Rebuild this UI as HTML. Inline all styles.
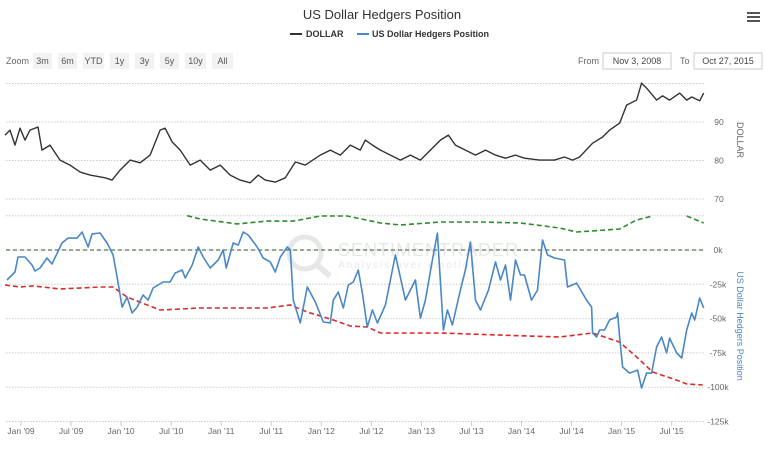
<!DOCTYPE html>
<html><head><meta charset="utf-8"><style>
body{margin:0;background:#fff;font-family:"Liberation Sans",sans-serif;}
svg text{font-family:"Liberation Sans",sans-serif;}
</style></head><body>
<svg id="c" width="765" height="444" xmlns="http://www.w3.org/2000/svg">
<text x="382" y="19" text-anchor="middle" font-size="13" fill="#333">US Dollar Hedgers Position</text>
<g><rect x="747" y="12" width="13" height="2" fill="#555"/><rect x="747" y="16" width="13" height="2" fill="#555"/><rect x="747" y="20" width="13" height="2" fill="#555"/></g>
<g><line x1="290" y1="34" x2="302" y2="34" stroke="#333" stroke-width="2"/><text x="306" y="37" font-size="9" font-weight="bold" fill="#333">DOLLAR</text></g>
<g><line x1="357" y1="34" x2="369" y2="34" stroke="#4a87c5" stroke-width="2"/><text x="372" y="37" font-size="9" font-weight="bold" fill="#333">US Dollar Hedgers Position</text></g>
<text x="6" y="64" font-size="9" fill="#666">Zoom</text>
<g id="zb"></g>
<text x="578" y="64" font-size="9" fill="#666">From</text>
<rect x="603" y="53" width="68" height="16" fill="#fff" stroke="#ccc"/>
<text x="637" y="64" font-size="9" fill="#444" text-anchor="middle">Nov 3, 2008</text>
<text x="680" y="64" font-size="9" fill="#666">To</text>
<rect x="694" y="53" width="68" height="16" fill="#fff" stroke="#ccc"/>
<text x="728" y="64" font-size="9" fill="#444" text-anchor="middle">Oct 27, 2015</text>
<g opacity="0.35">
<circle cx="305" cy="253" r="16" fill="none" stroke="#bbb" stroke-width="5"/>
<line x1="317" y1="265" x2="330" y2="276" stroke="#bbb" stroke-width="6"/>
<text x="338" y="256" font-size="18" fill="#bbb" letter-spacing="1">SENTIMENTRADER</text>
<text x="338" y="268" font-size="10" fill="#bbb" letter-spacing="2">Analysis over emotion</text>
</g>
<g id="grid"></g><g id="series"></g><g id="axes"></g>
<text transform="translate(737,140) rotate(90)" font-size="9" fill="#666" text-anchor="middle">DOLLAR</text>
<text transform="translate(737,326) rotate(90)" font-size="9" fill="#4a87c5" text-anchor="middle">US Dollar Hedgers Position</text>
</svg>
<script>
const zoomButtons=["3m","6m","YTD","1y","3y","5y","10y","All"];
const dollarDates=[2008.84,2008.89,2008.94,2008.99,2009.04,2009.09,2009.17,2009.21,2009.29,2009.39,2009.49,2009.59,2009.69,2009.84,2009.91,2009.99,2010.09,2010.19,2010.29,2010.39,2010.44,2010.51,2010.59,2010.69,2010.79,2010.89,2010.99,2011.09,2011.19,2011.29,2011.37,2011.44,2011.54,2011.64,2011.74,2011.84,2011.99,2012.09,2012.19,2012.29,2012.39,2012.44,2012.51,2012.59,2012.69,2012.79,2012.89,2012.99,2013.09,2013.19,2013.27,2013.34,2013.44,2013.54,2013.64,2013.74,2013.84,2013.94,2014.03,2014.18,2014.33,2014.43,2014.51,2014.58,2014.71,2014.81,2014.88,2014.98,2015.05,2015.15,2015.20,2015.25,2015.35,2015.41,2015.48,2015.58,2015.65,2015.70,2015.78,2015.82];
const dollarValues=[86.6,87.9,84.0,88.4,85.3,87.9,88.7,82.7,84.0,80.1,78.8,77.0,76.2,75.5,74.9,77.5,80.1,79.4,81.4,87.9,88.4,84.8,82.7,78.8,80.1,77.5,78.8,76.2,74.9,74.2,76.2,74.9,74.4,75.5,79.6,78.8,81.4,82.7,81.4,84.0,82.7,85.3,84.0,82.7,81.4,80.1,81.4,80.1,82.7,85.3,86.6,84.0,82.7,81.4,82.7,81.4,80.6,81.4,80.6,80.1,80.1,80.9,80.1,80.9,84.5,86.1,87.9,89.7,94.4,95.7,100.1,98.8,95.7,96.8,95.7,97.5,95.7,96.5,95.5,97.5];
const hedgeDates=[2008.86,2008.94,2008.97,2009.04,2009.11,2009.14,2009.19,2009.26,2009.31,2009.41,2009.47,2009.56,2009.61,2009.67,2009.71,2009.79,2009.86,2009.92,2009.96,2010.01,2010.06,2010.11,2010.16,2010.22,2010.27,2010.32,2010.42,2010.49,2010.54,2010.61,2010.64,2010.71,2010.77,2010.82,2010.89,2010.97,2011.02,2011.05,2011.12,2011.17,2011.22,2011.27,2011.36,2011.42,2011.49,2011.54,2011.59,2011.66,2011.69,2011.72,2011.79,2011.86,2011.94,2012.02,2012.09,2012.12,2012.17,2012.22,2012.27,2012.32,2012.37,2012.41,2012.46,2012.51,2012.56,2012.64,2012.74,2012.84,2012.94,2012.99,2013.04,2013.11,2013.16,2013.22,2013.26,2013.31,2013.39,2013.44,2013.49,2013.54,2013.59,2013.67,2013.74,2013.79,2013.84,2013.89,2013.94,2013.99,2014.03,2014.10,2014.16,2014.21,2014.26,2014.33,2014.43,2014.46,2014.55,2014.65,2014.70,2014.71,2014.75,2014.78,2014.83,2014.88,2014.95,2014.96,2014.98,2015.01,2015.08,2015.16,2015.20,2015.25,2015.30,2015.35,2015.40,2015.45,2015.48,2015.55,2015.60,2015.65,2015.70,2015.73,2015.78,2015.82];
const hedgeValues=[-21.9,-16.0,-5.1,-5.1,-10.9,-15.3,-13.1,-5.8,-10.2,5.1,8.7,8.7,13.1,2.2,11.7,12.4,5.1,-3.6,-19.7,-41.6,-34.3,-45.9,-41.6,-32.8,-36.5,-27.7,-23.3,-23.3,-16.8,-14.6,-20.4,-10.9,2.2,-5.1,-13.1,-7.3,0,-13.1,5.1,3.6,13.1,10.9,2.2,-5.8,-8.7,-16.0,-5.1,2.2,0,-36.5,-53.2,-27.0,-37.9,-52.5,-53.2,-36.5,-30.6,-42.3,-25.5,-23.3,-14.6,-31.3,-56.1,-43.7,-53.2,-40.1,-3.6,-36.5,-21.9,-49.6,-36.5,-7.3,12.4,-58.3,-43.7,-54.7,-29.2,-14.6,5.8,-36.5,-43.7,-29.2,-8.7,-21.9,-10.9,-36.5,-7.3,-18.2,-18.2,-36.5,-29.2,7.3,-3.6,-5.8,-7.3,-27.0,-24.1,-36.5,-41.6,-60.5,-63.4,-58.3,-58.3,-51.0,-48.8,-45.9,-63.4,-85.3,-89.7,-87.5,-100.6,-89.7,-89.7,-70.7,-63.4,-75.1,-64.2,-75.1,-78.7,-58.3,-45.9,-51.0,-35.0,-42.3];
const lowerDates=[2008.84,2008.99,2009.12,2009.39,2009.79,2009.92,2010.06,2010.39,2010.79,2011.46,2011.69,2011.86,2012.12,2012.29,2012.46,2012.59,2013.19,2013.79,2014.38,2014.71,2014.98,2015.15,2015.31,2015.55,2015.65,2015.81];
const lowerValues=[-25.5,-27.0,-26.2,-28.4,-27.0,-27.0,-34.3,-43.7,-42.3,-42.3,-40.1,-45.2,-51.0,-55.4,-56.1,-60.5,-60.5,-62.0,-63.4,-60.5,-67.1,-78.0,-88.9,-94.8,-97.7,-98.4];
const upperDates=[2010.66,2010.79,2011.16,2011.46,2011.72,2011.99,2012.26,2012.59,2012.79,2013.19,2013.59,2013.99,2014.38,2014.55,2014.71,2014.98,2015.15,2015.31,null,2015.65,2015.82];
const upperValues=[25,22.6,19.0,21.1,21.1,24.8,24.8,19.7,18.2,20.4,20.4,19.7,16.0,13.1,13.9,15.3,21.9,24.8,null,24.8,19.7];
const dollarTicks=[100,90,80,70];
const dollarTickLabels=["","90","80","70"];
const hedgeTicks=[25,0,-25,-50,-75,-100,-125];
const hedgeTickLabels=["","0k","-25k","-50k","-75k","-100k","-125k"];
const xTicks=[2009,2009.5,2010,2010.5,2011,2011.5,2012,2012.5,2013,2013.5,2014,2014.5,2015,2015.5];
const xTickLabels=["Jan '09","Jul '09","Jan '10","Jul '10","Jan '11","Jul '11","Jan '12","Jul '12","Jan '13","Jul '13","Jan '14","Jul '14","Jan '15","Jul '15"];

const NS="http://www.w3.org/2000/svg";
const X0=6,X1=705;
const xS=t=>21+(t-2009)*100.1;
const yD=v=>122-(v-90)*3.85;
const yH=v=>250-v*1.372;
function mk(tag,attrs,parent){const e=document.createElementNS(NS,tag);for(const k in attrs)e.setAttribute(k,attrs[k]);parent.appendChild(e);return e;}
const zb=document.getElementById('zb');
let bx=33;
zoomButtons.forEach((b,i)=>{const w=b.length>2?21:19;
 const r=mk('rect',{x:bx,y:53,width:w,height:16,fill:'#f2f2f2'},zb);
 
 
 const t=mk('text',{x:bx+w/2,y:64,'font-size':9,fill:'#555','text-anchor':'middle'},zb);t.textContent=b;
 bx+=w+6;});
const grid=document.getElementById('grid'),axes=document.getElementById('axes'),ser=document.getElementById('series');
dollarTicks.forEach((v,i)=>{const y=yD(v);
 const l=mk('line',{x1:X0,x2:X1,y1:y,y2:y,stroke:'#ccc','stroke-dasharray':'1.5,1.5'},grid);
 
 
 const t=mk('text',{x:719,y:y+3,'font-size':8.5,fill:'#666','text-anchor':'middle'},axes);t.textContent=dollarTickLabels[i];
 
 });
hedgeTicks.forEach((v,i)=>{const y=yH(v);
 const l=mk('line',{x1:X0,x2:X1,y1:y,y2:y,stroke:'#ccc','stroke-dasharray':'1.5,1.5'},grid);
 
 
 const t=mk('text',{x:718,y:y+3,'font-size':8.5,fill:'#666','text-anchor':'middle'},axes);t.textContent=hedgeTickLabels[i];
 
 });
xTicks.forEach((t,i)=>{const x=xS(t);
 mk('line',{x1:x,x2:x,y1:421,y2:426,stroke:'#ccc'},axes);
 const tx=mk('text',{x:x,y:434,'font-size':8.5,fill:'#666','text-anchor':'middle'},axes);tx.textContent=xTickLabels[i];
 
 });
function path(dates,vals,ys){let d='',pen=false;dates.forEach((t,i)=>{if(t===null||vals[i]===null){pen=false;return;}d+=(pen?'L':'M')+xS(t).toFixed(1)+','+ys(vals[i]).toFixed(1);pen=true;});return d;}
const zl=mk('line',{x1:X0,x2:X1,y1:yH(0),y2:yH(0),stroke:'#557a55','stroke-width':1.2,'stroke-dasharray':'4,3'},ser);


const up=mk('path',{d:path(upperDates,upperValues,yH),fill:'none',stroke:'#2e8b2e','stroke-width':1.6,'stroke-dasharray':'5,3'},ser);


const lo=mk('path',{d:path(lowerDates,lowerValues,yH),fill:'none',stroke:'#d62c2c','stroke-width':1.6,'stroke-dasharray':'5,3'},ser);


const hl=mk('path',{d:path(hedgeDates,hedgeValues,yH),fill:'none',stroke:'#4a87c5','stroke-width':1.6,'stroke-linejoin':'round'},ser);


const dl=mk('path',{d:path(dollarDates,dollarValues,yD),fill:'none',stroke:'#333','stroke-width':1.4,'stroke-linejoin':'round'},ser);


</script>
</body></html>
